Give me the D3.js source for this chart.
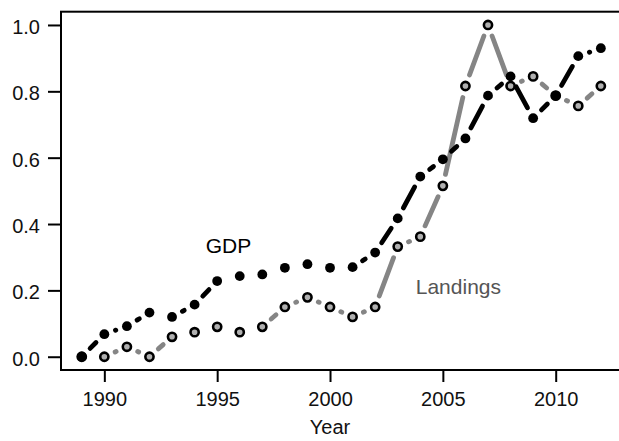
<!DOCTYPE html>
<html>
<head>
<meta charset="utf-8">
<script src="https://cdn.jsdelivr.net/npm/d3@7"></script>
<style>
  html, body { margin: 0; padding: 0; background: #ffffff; overflow: hidden; }
  svg { display: block; font-family: "Liberation Sans", Arial, Helvetica, sans-serif; }
</style>
</head>
<body>
<svg id="chart" width="619" height="441"></svg>
<script>
// Normalised annual series, 1989-2012
const years = [1989, 1990, 1991, 1992, 1993, 1994, 1995, 1996, 1997, 1998, 1999, 2000,
               2001, 2002, 2003, 2004, 2005, 2006, 2007, 2008, 2009, 2010, 2011, 2012];
const gdp = [0.000, 0.068, 0.092, 0.133, 0.120, 0.157, 0.228, 0.243, 0.248, 0.268, 0.279, 0.268,
             0.270, 0.314, 0.417, 0.543, 0.595, 0.658, 0.787, 0.845, 0.719, 0.787, 0.906, 0.930];
const landings = [0.000, 0.000, 0.030, 0.000, 0.060, 0.074, 0.090, 0.074, 0.090, 0.150, 0.179, 0.150,
                  0.120, 0.150, 0.332, 0.362, 0.515, 0.816, 1.000, 0.816, 0.845, 0.787, 0.756, 0.816];
const xTicks = [1990, 1995, 2000, 2005, 2010];
const yTicks = [0.0, 0.2, 0.4, 0.6, 0.8, 1.0];
const seriesLabels = ["GDP", "Landings"];
const xTitle = "Year";

const svg = d3.select("#chart");

// plot region (right edge runs past the visible area)
const plotL = 61, plotR = 621.6, plotT = 11.7, plotB = 370;
const x = d3.scaleLinear().domain([1988.08, 2012.92]).range([plotL, plotR]);
const y = d3.scaleLinear().domain([-0.04, 1.04]).range([plotB, plotT]);

const FS = 20;
const LABEL_FS = 21;
const GAP = 11.8;     // space left around each point by the connecting segments
const LW = 4.8;

// connecting segments, trimmed around the points
function drawSegments(g, values, colour) {
  const pts = years.map((yr, i) => [x(yr), y(values[i])]);
  const segs = [];
  for (let i = 0; i < pts.length - 1; i++) {
    const [x0, y0] = pts[i], [x1, y1] = pts[i + 1];
    const d = Math.hypot(x1 - x0, y1 - y0);
    if (d <= 2 * GAP) continue;
    const f = GAP / d;
    segs.push([x0 + (x1 - x0) * f, y0 + (y1 - y0) * f, x1 - (x1 - x0) * f, y1 - (y1 - y0) * f]);
  }
  g.selectAll("line").data(segs).join("line")
    .attr("x1", s => s[0]).attr("y1", s => s[1])
    .attr("x2", s => s[2]).attr("y2", s => s[3])
    .attr("stroke", colour).attr("stroke-width", LW)
    .attr("stroke-linecap", "round");
}

// Landings: grey segments with ringed points
const gLand = svg.append("g");
drawSegments(gLand, landings, "#858585");
gLand.selectAll("circle").data(years).join("circle")
  .attr("cx", d => x(d)).attr("cy", (d, i) => y(landings[i]))
  .attr("r", 4.1)
  .attr("fill", "#b0b0b0").attr("stroke", "#000").attr("stroke-width", 2.6);

// GDP: black segments with filled points
const gGdp = svg.append("g");
drawSegments(gGdp, gdp, "#000000");
gGdp.selectAll("circle").data(years).join("circle")
  .attr("cx", d => x(d)).attr("cy", (d, i) => y(gdp[i]))
  .attr("r", 4.9).attr("fill", "#000");

// frame
svg.append("rect")
  .attr("x", plotL).attr("y", plotT)
  .attr("width", plotR - plotL).attr("height", plotB - plotT)
  .attr("fill", "none").attr("stroke", "#000").attr("stroke-width", 2);

// axes
const yAxis = svg.append("g").attr("transform", `translate(${plotL},0)`)
  .call(d3.axisLeft(y).tickValues(yTicks).tickFormat(d3.format(".1f")).tickSize(13).tickPadding(8));
const xAxis = svg.append("g").attr("transform", `translate(0,${plotB})`)
  .call(d3.axisBottom(x).tickValues(xTicks).tickFormat(d3.format("d")).tickSize(12).tickPadding(10));
[yAxis, xAxis].forEach(a => {
  a.select(".domain").remove();
  a.selectAll(".tick line").attr("stroke", "#000").attr("stroke-width", 2);
  a.selectAll(".tick text").attr("fill", "#111")
    .style("font-size", FS + "px").style("font-family", "Liberation Sans, Arial, sans-serif");
});
yAxis.selectAll(".tick text").attr("dy", "0.42em");

// axis title
svg.append("text").attr("x", 330).attr("y", 434)
  .attr("text-anchor", "middle").attr("font-size", FS).attr("fill", "#111")
  .text(xTitle);

// series labels
svg.append("text").attr("x", x(1995.5)).attr("y", y(0.313))
  .attr("text-anchor", "middle").attr("font-size", LABEL_FS).attr("fill", "#000")
  .text(seriesLabels[0]);
svg.append("text").attr("x", x(2003.8)).attr("y", y(0.19))
  .attr("text-anchor", "start").attr("font-size", LABEL_FS).attr("fill", "#555")
  .text(seriesLabels[1]);
</script>
</body>
</html>
